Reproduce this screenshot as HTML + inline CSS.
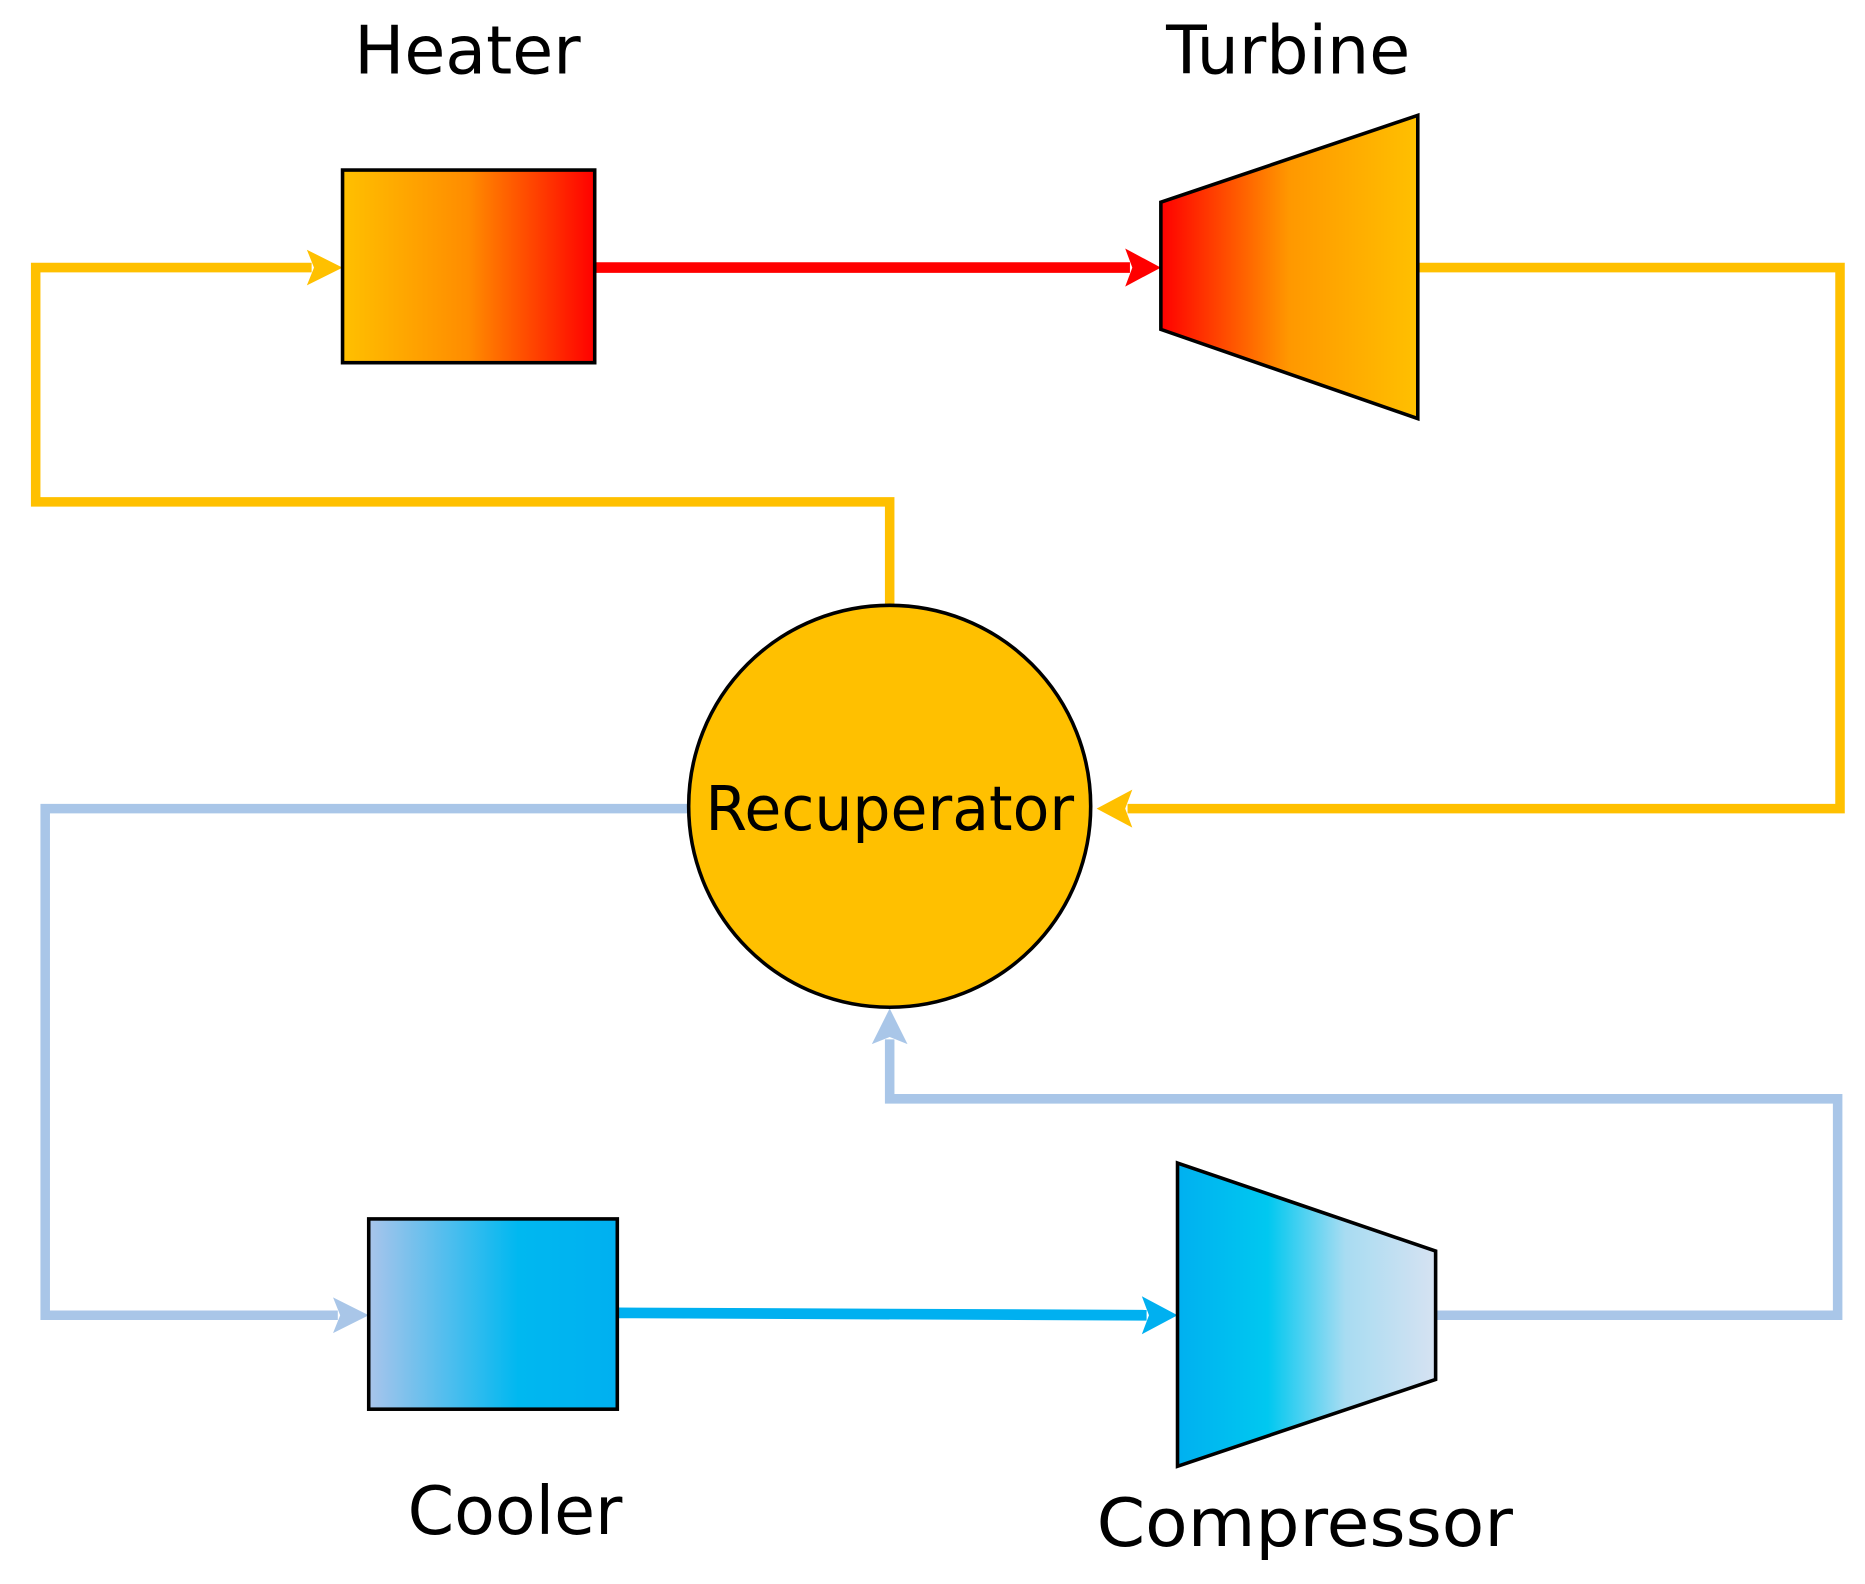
<!DOCTYPE html>
<html><head><meta charset="utf-8"><style>
html,body{margin:0;padding:0;background:#fff;}
svg{display:block;}
text{font-family:"DejaVu Sans","Liberation Sans",sans-serif;fill:#000;}
</style></head><body>
<svg width="1865" height="1584" viewBox="0 0 1568 1332" preserveAspectRatio="none" xmlns="http://www.w3.org/2000/svg">
<defs>
<linearGradient id="gh" x1="0" x2="1" y1="0" y2="0"><stop offset="0" stop-color="#FFC000"/><stop offset="0.5" stop-color="#FF8C00"/><stop offset="1" stop-color="#FF0000"/></linearGradient>
<linearGradient id="gt" x1="0" x2="1" y1="0" y2="0"><stop offset="0" stop-color="#FF0000"/><stop offset="0.5" stop-color="#FF9800"/><stop offset="1" stop-color="#FFC000"/></linearGradient>
<linearGradient id="gc" x1="0" x2="1" y1="0" y2="0"><stop offset="0" stop-color="#A9C4EB"/><stop offset="0.6" stop-color="#00B8F0"/><stop offset="1" stop-color="#00B0F0"/></linearGradient>
<linearGradient id="gp" x1="0" x2="1" y1="0" y2="0"><stop offset="0" stop-color="#00B0F0"/><stop offset="0.35" stop-color="#00C8F0"/><stop offset="0.65" stop-color="#A8DCF2"/><stop offset="1" stop-color="#D6E2F2"/></linearGradient>
</defs>
<g fill="none" stroke-linejoin="miter">
<polyline points="748,512 748,422 30,422 30,225 262,225" stroke="#FFC000" stroke-width="8"/>
<polyline points="1192,225 1547,225 1547,680 948,680" stroke="#FFC000" stroke-width="8"/>
<line x1="500" y1="225" x2="950" y2="225" stroke="#FF0000" stroke-width="9"/>
<polyline points="578,680 38,680 38,1106 284,1106" stroke="#A9C6E8" stroke-width="8"/>
<line x1="519" y1="1104" x2="964" y2="1106" stroke="#00B0F0" stroke-width="9"/>
<polyline points="1207,1106 1545,1106 1545,924 748,924 748,874" stroke="#A9C6E8" stroke-width="8"/>
</g>
<polygon points="288,225 258,210 264,225 258,240" fill="#FFC000"/>
<polygon points="976,225 946,209 952,225 946,241" fill="#FF0000"/>
<polygon points="922,680 952,664 946,680 952,696" fill="#FFC000"/>
<polygon points="310,1106 280,1091 286,1106 280,1121" fill="#A9C6E8"/>
<polygon points="990,1106 960,1090 966,1106 960,1122" fill="#00B0F0"/>
<polygon points="748,848 733,878 748,872 763,878" fill="#A9C6E8"/>
<rect x="288" y="143" width="212" height="162" fill="url(#gh)" stroke="#000" stroke-width="3"/>
<polygon points="976,170 1192,97 1192,352 976,277" fill="url(#gt)" stroke="#000" stroke-width="3"/>
<circle cx="748" cy="678" r="169" fill="#FFC000" stroke="#000" stroke-width="3"/>
<rect x="310" y="1025" width="209" height="160" fill="url(#gc)" stroke="#000" stroke-width="3"/>
<polygon points="990,978 1207,1052 1207,1160 990,1233" fill="url(#gp)" stroke="#000" stroke-width="3"/>
<text x="393" y="62" font-size="56" text-anchor="middle">Heater</text>
<text x="1083" y="62" font-size="56" text-anchor="middle">Turbine</text>
<text x="748" y="698" font-size="52" text-anchor="middle" textLength="310" lengthAdjust="spacingAndGlyphs">Recuperator</text>
<text x="433" y="1290" font-size="56" text-anchor="middle">Cooler</text>
<text x="1097" y="1300" font-size="56" text-anchor="middle" textLength="350" lengthAdjust="spacingAndGlyphs">Compressor</text>
</svg>
</body></html>
